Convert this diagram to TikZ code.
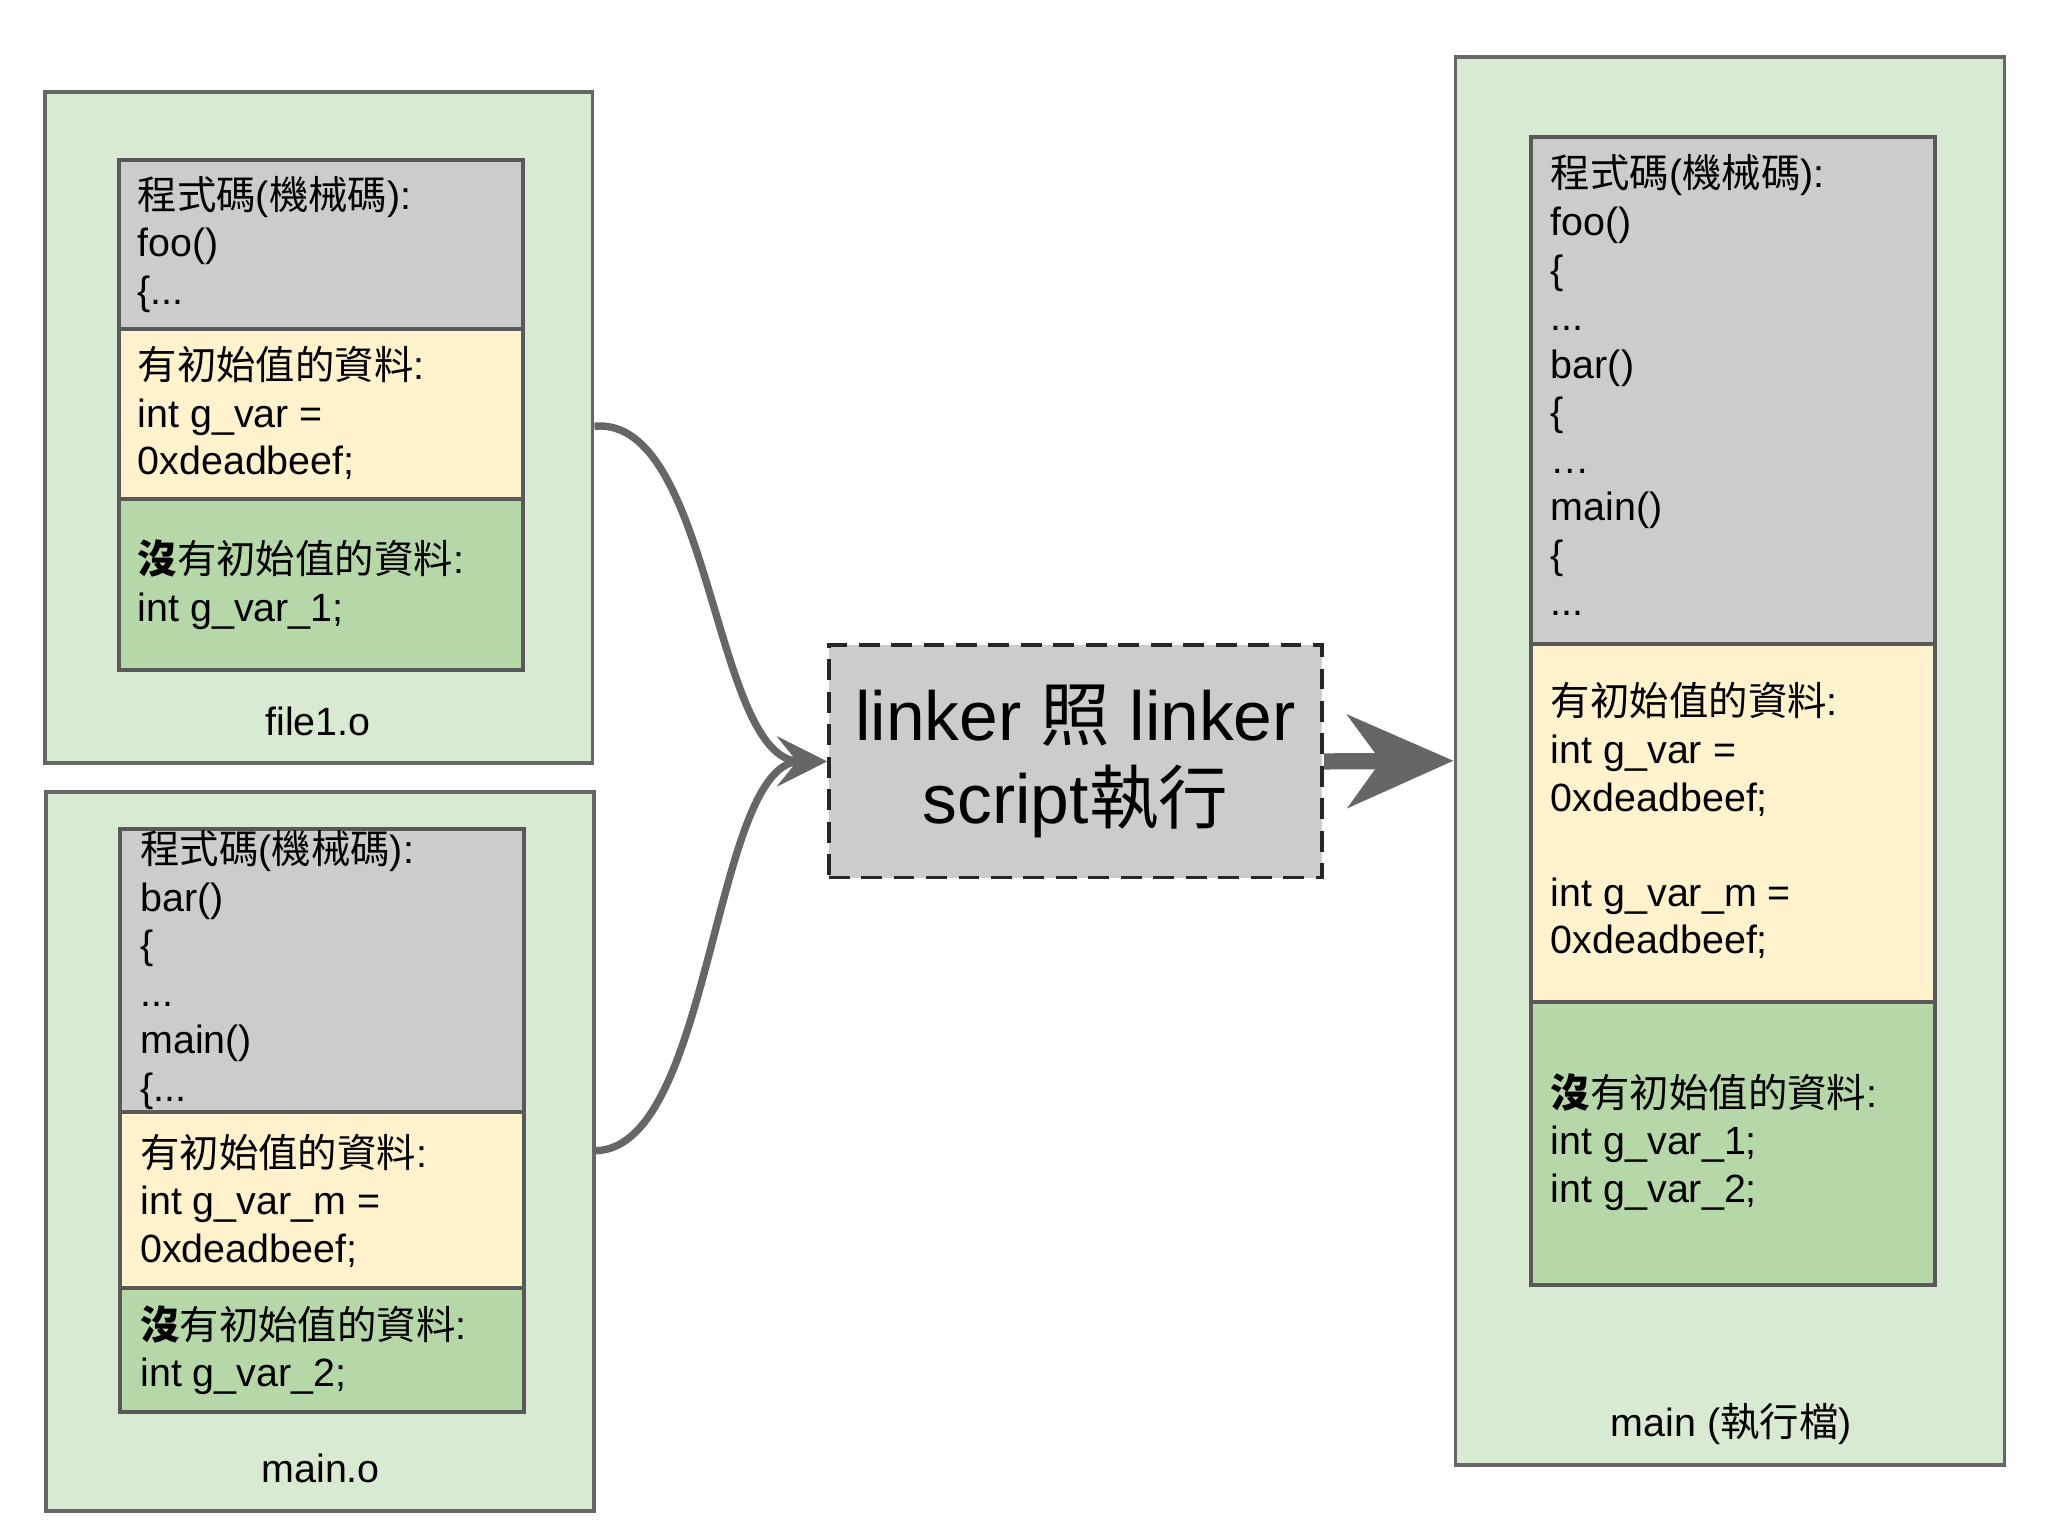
\documentclass[tikz,border=0pt]{standalone}
\usepackage{fontspec}
\setmainfont{Liberation Sans}
\newfontfamily\cjk{Noto Sans CJK TC}
\usetikzlibrary{fit,arrows.meta}
\begin{document}
\begin{tikzpicture}[x=0.02cm,y=-0.02cm,
  outer/.style={draw=black!60,line width=1.7pt,fill=green!30!white!60!gray!20,inner sep=0},
  grayb/.style={draw=black!65,line width=1.7pt,fill=black!20,inner sep=0},
  yelb/.style={draw=black!65,line width=1.7pt,fill={rgb,255:red,255;green,242;blue,204},inner sep=0},
  grnb/.style={draw=black!65,line width=1.7pt,fill={rgb,255:red,182;green,215;blue,168},inner sep=0},
  txt/.style={anchor=north west,align=left,inner sep=0,font=\fontsize{17}{20.5}\selectfont},
  lbl/.style={font=\fontsize{17}{20.5}\selectfont},
  conn/.style={draw=black!60,line width=3.2pt,-{Stealth[length=0.75cm,width=0.75cm,inset=0.3cm]}}]
\definecolor{og}{RGB}{217,234,211}
\useasboundingbox (0,0) rectangle (1552,1164);
% file1.o
\node[outer,fill=og,fit={(34,70)(449,578)}] (f1) {};
\node[grayb,fit={(90,121)(396,249)}] (f1g) {};
\node[yelb,fit={(90,249)(396,378)}] (f1y) {};
\node[grnb,fit={(90,378)(396,508)}] (f1n) {};
\node[txt] at (104,133) {{\cjk 程式碼}({\cjk 機械碼}):\\foo()\\\{...};
\node[txt] at (104,262) {{\cjk 有初始值的資料}:\\int g\_var =\\0xdeadbeef;};
\node[txt] at (104,409) {{\cjk\bfseries 沒}{\cjk 有初始值的資料}:\\int g\_var\_1;};
\node[lbl] (l1) at (241,547) {file1.o};
% main.o
\node[outer,fill=og,fit={(35,600)(450,1145)}] (mo) {};
\node[grayb,fit={(91,628)(397,843)}] (mog) {};
\node[yelb,fit={(91,843)(397,976)}] (moy) {};
\node[grnb,fit={(91,976)(397,1070)}] (mon) {};
\node[txt] at (106,629) {{\cjk 程式碼}({\cjk 機械碼}):\\bar()\\\{\\...\\main()\\\{...};
\node[txt] at (106,859) {{\cjk 有初始值的資料}:\\int g\_var\_m =\\0xdeadbeef;};
\node[txt] at (106,989) {{\cjk\bfseries 沒}{\cjk 有初始值的資料}:\\int g\_var\_2;};
\node[lbl] (l2) at (243,1113) {main.o};
% linker
\node[draw=black!85,dashed,line width=1.6pt,dash pattern=on 9pt off 5pt,fill=black!20,fit={(628,489)(1002,665)},inner sep=0] (lk) {};
\node[align=center,font=\fontsize{30}{36}\selectfont] at (lk.center) {linker {\cjk 照} linker\\script{\cjk 執行}};
% output
\node[outer,fill=og,fit={(1103,43)(1519,1110)}] (out) {};
\node[grayb,fit={(1160,104)(1466,488)}] (og) {};
\node[yelb,fit={(1160,488)(1466,759)}] (oy) {};
\node[grnb,fit={(1160,759)(1466,974)}] (on) {};
\node[txt] at (1175,117) {{\cjk 程式碼}({\cjk 機械碼}):\\foo()\\\{\\...\\bar()\\\{\\…\\main()\\\{\\...};
\node[txt] at (1175,517) {{\cjk 有初始值的資料}:\\int g\_var =\\0xdeadbeef;\\[20.5pt]int g\_var\_m =\\0xdeadbeef;};
\node[txt] at (1175,813) {{\cjk\bfseries 沒}{\cjk 有初始值的資料}:\\int g\_var\_1;\\int g\_var\_2;};
\node[lbl] (l3) at (1312,1079) {main ({\cjk 執行檔})};
% connectors
\coordinate (s1) at (f1.east|-0,323);
\coordinate (s2) at (mo.east|-0,872);
\coordinate (e) at (lk.west);
\draw[conn] (s1) .. controls (540,315) and (540,577) .. (e);
\draw[conn] (s2) .. controls (540,870) and (540,577) .. (e);
\draw[draw=black!60,line width=7pt,-{Stealth[length=1.6cm,width=1.4cm,inset=0.5cm]}] (lk.east) -- (out.west);
\end{tikzpicture}
\end{document}
